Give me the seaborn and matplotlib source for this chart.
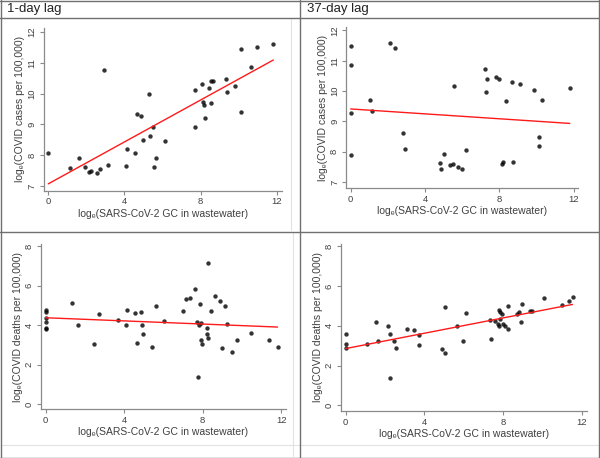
import matplotlib
matplotlib.use("Agg")
import matplotlib.pyplot as plt
import seaborn as sns
import pandas as pd
from matplotlib.lines import Line2D

# ---- data (natural log scale) ----
cases_lag1_x = [0, 1.15, 1.6, 1.92, 2.14, 2.25, 2.56, 2.73, 2.93, 3.12, 4.1, 4.13, 4.53, 4.65,
                4.88, 4.97, 5.3, 5.33, 5.52, 5.54, 5.64, 6.11, 7.72, 7.7, 8.07, 8.14, 8.16, 8.24,
                8.42, 8.52, 8.52, 8.62, 9.32, 9.37, 9.79, 10.12, 10.14, 10.64, 10.98, 11.81]
cases_lag1_y = [8.06, 7.59, 7.89, 7.60, 7.44, 7.47, 7.41, 7.56, 10.78, 7.67, 7.64, 8.19, 8.08, 9.35,
                9.27, 8.49, 10.0, 8.63, 8.91, 7.60, 7.92, 8.47, 10.12, 8.92, 10.32, 9.73, 9.64, 9.19,
                10.17, 10.42, 9.70, 10.41, 10.47, 10.05, 10.24, 9.40, 11.44, 10.87, 11.52, 11.62]

cases_lag37_x = [0, 0, 0, 0, 1.06, 1.16, 2.11, 2.38, 2.83, 2.9, 4.82, 4.86, 5.02, 5.36, 5.5, 5.54,
                 5.75, 6.0, 6.2, 7.22, 7.26, 7.33, 7.84, 8.0, 8.12, 8.19, 8.37, 8.67, 8.71, 9.12,
                 9.89, 10.14, 10.14, 10.32, 11.79]
cases_lag37_y = [11.48, 10.85, 9.26, 7.90, 9.70, 9.35, 11.58, 11.41, 8.63, 8.09, 7.61, 7.42, 7.93,
                 7.57, 7.60, 10.16, 7.48, 7.44, 8.05, 10.74, 9.98, 10.38, 10.45, 10.40, 7.60, 7.65,
                 9.66, 10.30, 7.66, 10.23, 10.03, 8.48, 8.20, 9.69, 10.09]

deaths_lag1_x = [0, 0, 0, 0, 0, 0, 1.33, 1.63, 2.48, 2.74, 3.71, 4.08, 4.17, 4.56, 4.64, 4.86, 4.93,
                 4.95, 5.44, 5.63, 6.04, 7.01, 7.13, 7.35, 7.59, 7.74, 7.77, 7.84, 7.86, 7.9, 7.94,
                 7.96, 8.24, 8.24, 8.27, 8.28, 8.43, 8.64, 8.88, 8.98, 9.15, 9.23, 9.49, 9.76,
                 10.46, 11.39, 11.82]
deaths_lag1_y = [4.77, 4.65, 4.35, 4.18, 3.84, 3.81, 5.11, 3.99, 3.06, 4.59, 4.28, 3.99, 4.77, 4.62,
                 3.08, 4.67, 3.99, 3.54, 2.89, 4.96, 4.23, 4.72, 5.31, 5.40, 5.84, 4.18, 1.37, 4.01,
                 5.06, 3.25, 4.09, 3.03, 3.84, 3.57, 3.33, 7.14, 4.72, 5.47, 5.25, 2.83, 4.99, 4.06,
                 2.64, 3.25, 3.59, 3.25, 2.89]

deaths_lag37_x = [0, 0, 0, 1.11, 1.55, 1.64, 2.16, 2.26, 2.28, 2.48, 2.58, 3.14, 3.47, 3.71, 3.74,
                  4.89, 5.03, 5.06, 5.65, 5.94, 6.12, 7.34, 7.4, 7.57, 7.72, 7.77, 7.79, 7.84, 7.84,
                  7.93, 8.0, 8.1, 8.23, 8.25, 8.7, 8.8, 8.9, 8.95, 9.36, 9.48, 10.1, 11.0, 11.35, 11.53]
deaths_lag37_y = [3.57, 3.09, 2.89, 3.09, 4.19, 3.24, 4.01, 3.57, 1.38, 3.26, 2.89, 3.86, 3.81, 3.04,
                  3.56, 2.84, 4.97, 2.63, 3.99, 3.26, 4.63, 4.28, 3.36, 4.25, 4.08, 4.80, 3.98, 4.70,
                  4.33, 4.61, 4.11, 4.01, 5.00, 3.86, 4.61, 4.68, 4.19, 5.10, 4.75, 4.73, 5.40, 5.05,
                  5.23, 5.47]

x_label = "log\u2091(SARS-CoV-2 GC in wastewater)"
cases_label = "log\u2091(COVID cases per 100,000)"
deaths_label = "log\u2091(COVID deaths per 100,000)"
x_ticks = [0, 4, 8, 12]
cases_ticks = [7, 8, 9, 10, 11, 12]
deaths_ticks = [0, 2, 4, 6, 8]
headers = ["1-day lag", "37-day lag"]

sns.set_style("white")
plt.rcParams["font.family"] = ["Liberation Sans", "DejaVu Sans"]

W, H = 600, 458
fig = plt.figure(figsize=(6, 4.58), dpi=100)


def px_rect(left, top, right, bottom):
    return [left / W, 1 - bottom / H, (right - left) / W, (bottom - top) / H]


panels = [
    (px_rect(43.5, 28, 281.7, 190.5), cases_lag1_x, cases_lag1_y, cases_label, cases_ticks, (6.85, 12.13)),
    (px_rect(346, 27, 578.3, 188.3), cases_lag37_x, cases_lag37_y, cases_label, cases_ticks, (6.79, 12.11)),
    (px_rect(40.7, 244, 286, 409), deaths_lag1_x, deaths_lag1_y, deaths_label, deaths_ticks, (-0.25, 8.12)),
    (px_rect(340.7, 244, 586.7, 410.7), deaths_lag37_x, deaths_lag37_y, deaths_label, deaths_ticks, (-0.27, 8.12)),
]

grey = "#8a8a8a"
text_grey = "#404040"

for rect, xs, ys, ylab, yticks, ylim in panels:
    ax = fig.add_axes(rect)
    df = pd.DataFrame({"x": xs, "y": ys})
    sns.regplot(data=df, x="x", y="y", ax=ax, ci=None, truncate=True,
                scatter_kws={"s": 10, "color": "black", "linewidths": 0},
                line_kws={"color": "#ff1a1a", "linewidth": 1.0})
    ax.set_xlim(-0.25, 12.25)
    ax.set_ylim(*ylim)
    ax.set_xticks(x_ticks)
    ax.set_yticks(yticks)
    ax.set_xlabel(x_label, fontsize=7.5, color=text_grey, labelpad=1.5)
    ax.set_ylabel(ylab, fontsize=7.5, color=text_grey, labelpad=1.5)
    ax.tick_params(axis="both", direction="out", length=3, width=0.8, color=grey,
                   labelsize=6.8, labelcolor=text_grey, pad=2, left=True, bottom=True)
    for lbl in ax.get_yticklabels():
        lbl.set_rotation(90)
        lbl.set_va("center")
    sns.despine(ax=ax)
    for side in ("left", "bottom"):
        ax.spines[side].set_color(grey)
        ax.spines[side].set_linewidth(0.9)

# table-like frame around the four panels
def hline(y, x0=0, x1=W, color="#707070", lw=1.0):
    fig.add_artist(Line2D([x0 / W, x1 / W], [1 - y / H, 1 - y / H], color=color, linewidth=lw))


def vline(x, y0=0, y1=H, color="#707070", lw=1.0):
    fig.add_artist(Line2D([x / W, x / W], [1 - y0 / H, 1 - y1 / H], color=color, linewidth=lw))


# faint edges of each embedded graph
faint = "#e2e2e2"
hline(445, 2, 598, color=faint, lw=0.8)
vline(291, 18, 230, color=faint, lw=0.8)
vline(293, 232, 456, color=faint, lw=0.8)

hline(0.5)
hline(457.5)
vline(0.5)
vline(598.5)
hline(17.5)
vline(299.5)
hline(231.5)

fig.text(7 / W, 1 - 9 / H, headers[0], fontsize=9.5, color="#222222", va="center", ha="left")
fig.text(307 / W, 1 - 9 / H, headers[1], fontsize=9.5, color="#222222", va="center", ha="left")

fig.savefig("out.png", dpi=100)
